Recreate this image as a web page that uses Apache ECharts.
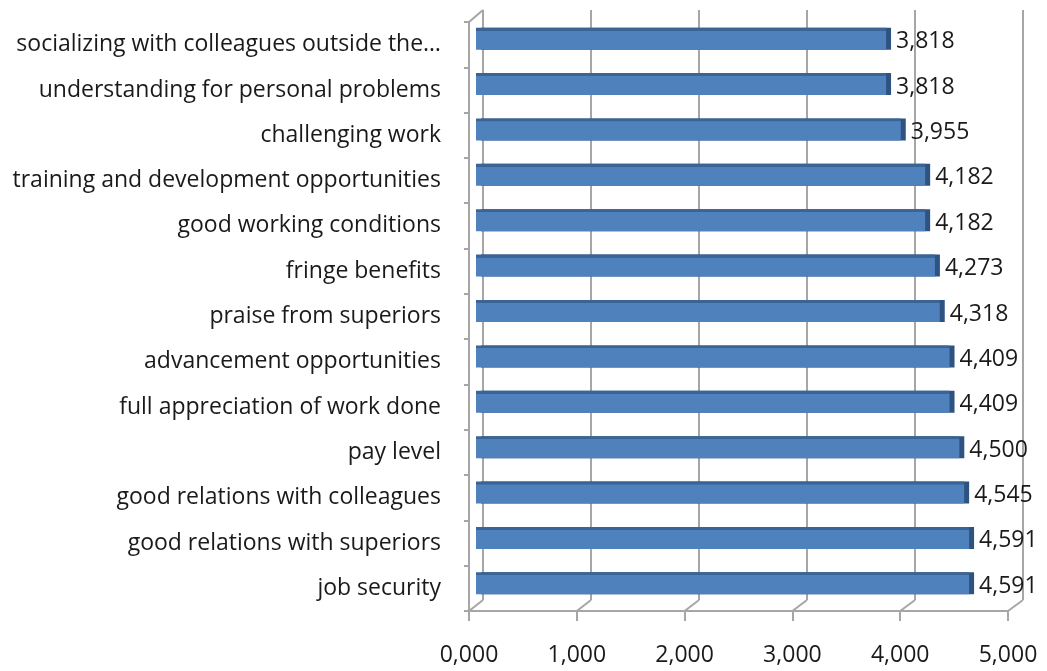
<!DOCTYPE html>
<html>
<head>
<meta charset="utf-8">
<script src="https://cdn.jsdelivr.net/npm/echarts@6/dist/echarts.min.js"></script>
<style>html,body{margin:0;padding:0;background:#fff}#c{width:1047px;height:671px}</style>
</head>
<body>
<div id="c"></div>
<script>
const categories = [
  "socializing with colleagues outside the…",
  "understanding for personal problems",
  "challenging work",
  "training and development opportunities",
  "good working conditions",
  "fringe benefits",
  "praise from superiors",
  "advancement opportunities",
  "full appreciation of work done",
  "pay level",
  "good relations with colleagues",
  "good relations with superiors",
  "job security"
];
const values = [3.818, 3.818, 3.955, 4.182, 4.182, 4.273, 4.318, 4.409, 4.409, 4.500, 4.545, 4.591, 4.591];
const axisMin = 0, axisMax = 5, axisStep = 1;

const FONT = "Open Sans";
const FS = 23;
const fmt = v => v.toFixed(3).replace('.', ',');
const chart = echarts.init(document.getElementById('c'));
const gray = '#a6a6a6';

const option = {
  animation: false,
  backgroundColor: '#fff',
  grid: [
    {left: 483, right: 24, top: 10, bottom: 71},   // back wall
    {left: 469, right: 39, top: 22, bottom: 60},   // front frame
    {left: 476, right: 34, top: 16, bottom: 65}    // bars
  ],
  xAxis: [
    {gridIndex: 0, type: 'value', min: axisMin, max: axisMax, interval: axisStep,
     axisLine: {show: false}, axisTick: {show: false}, axisLabel: {show: false},
     splitLine: {show: true, lineStyle: {color: gray, width: 2}}},
    {gridIndex: 1, type: 'value', min: axisMin, max: axisMax, interval: axisStep,
     axisLine: {show: true, lineStyle: {color: gray, width: 2}},
     axisTick: {show: true, length: 10, lineStyle: {color: gray, width: 2}},
     splitLine: {show: false},
     axisLabel: {formatter: fmt, margin: 33, fontFamily: FONT, fontSize: FS, color: '#1a1a1a'}},
    {gridIndex: 2, type: 'value', min: axisMin, max: axisMax, show: false}
  ],
  yAxis: [
    {gridIndex: 0, type: 'category', data: categories, inverse: true, show: false},
    {gridIndex: 1, type: 'category', data: categories, inverse: true,
     axisLine: {show: true, lineStyle: {color: gray, width: 2}},
     axisTick: {show: true, length: 5, lineStyle: {color: gray, width: 2}},
     axisLabel: {margin: 28, fontFamily: FONT, fontSize: FS, color: '#1a1a1a'}},
    {gridIndex: 2, type: 'category', data: categories, inverse: true, show: false}
  ],
  series: [{
    type: 'bar', xAxisIndex: 2, yAxisIndex: 2, data: values, barWidth: 22,
    itemStyle: {
      color: new echarts.graphic.LinearGradient(0, 0, 0, 1, [
        {offset: 0, color: '#3a6496'}, {offset: 0.13, color: '#3a6496'},
        {offset: 0.14, color: '#4f81bd'}, {offset: 1, color: '#4f81bd'}
      ]),
      shadowColor: '#2f5381', shadowOffsetX: 5, shadowOffsetY: 0, shadowBlur: 0
    },
    label: {show: true, position: 'right', distance: 10, offset: [0, 3], formatter: p => fmt(p.value),
            fontFamily: FONT, fontSize: FS, color: '#1a1a1a'}
  }]
};
chart.setOption(option);

// 3D frame connectors between front frame and back wall
const g = [];
const line = (x1, y1, x2, y2) => g.push({type: 'line', shape: {x1, y1, x2, y2},
  style: {stroke: gray, lineWidth: 2}, silent: true});
const yFront = 611, yBack = 600;
for (let v = axisMin; v <= axisMax; v += axisStep) {
  const xf = chart.convertToPixel({xAxisIndex: 1}, v);
  const xb = chart.convertToPixel({xAxisIndex: 0}, v);
  line(xf, yFront, xb, yBack);
}
const xl = chart.convertToPixel({xAxisIndex: 1}, axisMin);
const xlb = chart.convertToPixel({xAxisIndex: 0}, axisMin);
line(xl, 22, xlb, 10);
chart.setOption({graphic: g});
</script>
</body>
</html>
